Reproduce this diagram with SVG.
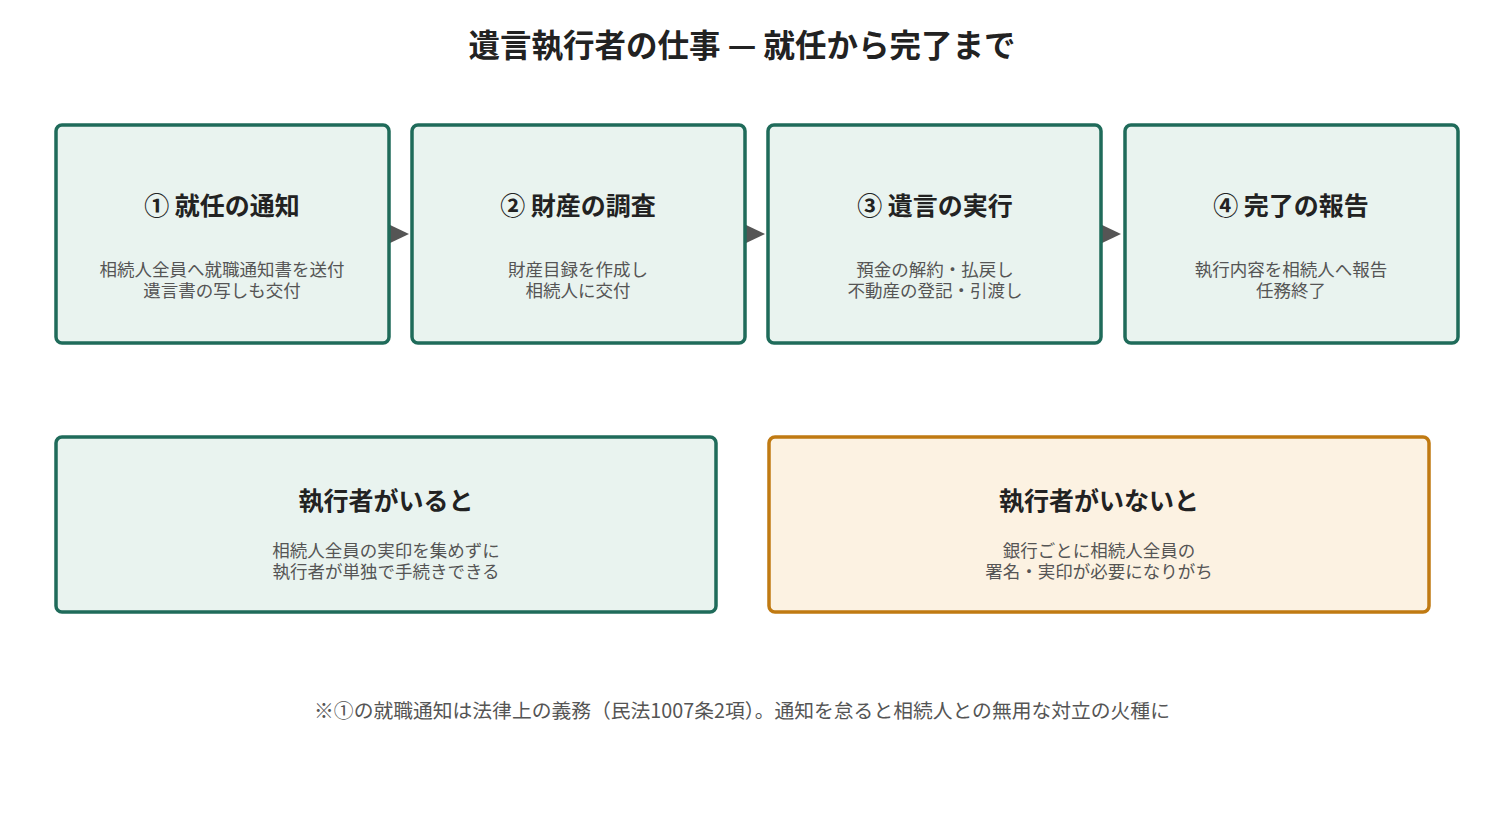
<svg xmlns="http://www.w3.org/2000/svg" width="1485" height="824" viewBox="0 0 1485 824">
<style>
text{font-family:"Noto Sans CJK JP","Noto Sans",sans-serif;text-anchor:middle}
.g{fill:#e9f3ef;stroke:#1f6b5a;stroke-width:3.5}
.o{fill:#fcf2e2;stroke:#c07a12;stroke-width:3.5}
.h{font-size:25px;font-weight:bold;fill:#222}
.s{font-size:17.5px;fill:#555}
</style>
<rect width="1485" height="824" fill="#fff"/>
<text x="742" y="57" font-size="31.5" font-weight="bold" fill="#222">遺言執行者の仕事 — 就任から完了まで</text>
<g id="connectors" fill="#555">
<polygon points="388,224 409,234 388,244"/>
<polygon points="744,224 765,234 744,244"/>
<polygon points="1100,224 1121,234 1100,244"/>
</g>
<g id="n1"><rect class="g" x="56" y="125" width="333" height="218" rx="6"/><text class="h" x="222" y="215">① 就任の通知</text><text class="s" x="222" y="276">相続人全員へ就職通知書を送付</text><text class="s" x="222" y="297">遺言書の写しも交付</text></g>
<g id="n2"><rect class="g" x="412" y="125" width="333" height="218" rx="6"/><text class="h" x="578" y="215">② 財産の調査</text><text class="s" x="578" y="276">財産目録を作成し</text><text class="s" x="578" y="297">相続人に交付</text></g>
<g id="n3"><rect class="g" x="768" y="125" width="333" height="218" rx="6"/><text class="h" x="935" y="215">③ 遺言の実行</text><text class="s" x="935" y="276">預金の解約・払戻し</text><text class="s" x="935" y="297">不動産の登記・引渡し</text></g>
<g id="n4"><rect class="g" x="1125" y="125" width="333" height="218" rx="6"/><text class="h" x="1291" y="215">④ 完了の報告</text><text class="s" x="1291" y="276">執行内容を相続人へ報告</text><text class="s" x="1291" y="297">任務終了</text></g>
<g id="n5"><rect class="g" x="56" y="437" width="660" height="175" rx="6"/><text class="h" x="386" y="510">執行者がいると</text><text class="s" x="386" y="557">相続人全員の実印を集めずに</text><text class="s" x="386" y="578">執行者が単独で手続きできる</text></g>
<g id="n6"><rect class="o" x="769" y="437" width="660" height="175" rx="6"/><text class="h" x="1099" y="510">執行者がいないと</text><text class="s" x="1099" y="557">銀行ごとに相続人全員の</text><text class="s" x="1099" y="578">署名・実印が必要になりがち</text></g>
<text x="742" y="718" font-size="19.8" fill="#555">※①の就職通知は法律上の義務（民法1007条2項）。通知を怠ると相続人との無用な対立の火種に</text>
</svg>
